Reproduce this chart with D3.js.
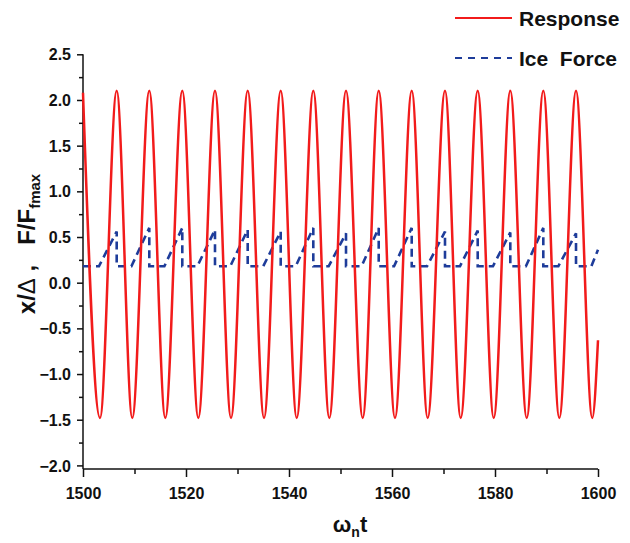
<!DOCTYPE html>
<html>
<head>
<meta charset="utf-8">
<script src="https://cdn.jsdelivr.net/npm/d3@7"></script>
<style>
  body { margin: 0; background: #fff; }
  svg { display: block; font-family: "Liberation Sans", Arial, sans-serif; }
  .tick-label { font-size: 16px; font-weight: bold; fill: #111; }
</style>
</head>
<body>
<svg id="chart" width="630" height="543"></svg>
<script>
// Response and ice force vs. non-dimensional time.

// response: extrema times and values (plus the two end points)
const respT = [1500, 1503.30, 1506.54, 1509.57, 1512.87, 1515.98, 1519.28, 1522.39,
  1525.63, 1528.74, 1531.98, 1535.15, 1538.39, 1541.50, 1544.72, 1547.83, 1551.07,
  1554.31, 1557.42, 1560.58, 1563.83, 1566.93, 1570.29, 1573.34, 1576.64, 1579.75,
  1582.97, 1586.16, 1589.38, 1592.49, 1595.73, 1598.89, 1600];
const respV = [2.08, -1.48, 2.10, -1.48, 2.10, -1.48, 2.10, -1.48,
  2.10, -1.48, 2.10, -1.48, 2.10, -1.48, 2.10, -1.48, 2.10,
  -1.48, 2.10, -1.48, 2.10, -1.48, 2.10, -1.48, 2.10, -1.48,
  2.10, -1.48, 2.10, -1.48, 2.10, -1.48, -0.63];

// ice force: ramp starts, drop times, peak values, base level
const forceStart = [1503.1, 1509.4, 1515.8, 1522.2, 1528.6, 1535.0, 1541.3, 1547.7,
  1554.1, 1560.4, 1566.8, 1573.2, 1579.6, 1586.0, 1592.3, 1598.7];
const forceDrop = [1506.54, 1512.87, 1519.28, 1525.63, 1531.98, 1538.39, 1544.72,
  1551.07, 1557.42, 1563.83, 1570.29, 1576.64, 1582.97, 1589.38, 1595.73];
const forcePeak = [0.56, 0.60, 0.60, 0.58, 0.58, 0.56, 0.60, 0.54, 0.60, 0.60,
  0.56, 0.57, 0.55, 0.60, 0.54];
const forceBase = 0.18;
const forceEnd = 0.36;

const xTicks = [1500, 1520, 1540, 1560, 1580, 1600];
const yTicks = [-2.0, -1.5, -1.0, -0.5, 0.0, 0.5, 1.0, 1.5, 2.0, 2.5];

const RED = '#f21b1b';
const BLUE = '#1e3c9a';

const svg = d3.select('#chart');

const x = d3.scaleLinear().domain([1500, 1600]).range([83, 598]);
const y = d3.scaleLinear().domain([-2.0, 2.5]).range([465.4, 54.3]);
const yBottom = 469;

// axes
const xAxis = d3.axisBottom(x).tickValues(d3.range(1500, 1601, 10))
  .tickFormat(d => xTicks.includes(d) ? d : '')
  .tickSize(0).tickPadding(0);

const gx = svg.append('g').attr('transform', `translate(0,${yBottom})`).call(xAxis);
gx.select('.domain').remove();
gx.selectAll('.tick line')
  .attr('y2', d => xTicks.includes(d) ? 8 : 5)
  .attr('stroke', '#111').attr('stroke-width', 1.5);
gx.selectAll('.tick text').attr('class', 'tick-label').attr('y', 30).attr('dy', null);

const yAxis = d3.axisLeft(y).tickValues(d3.range(-2.0, 2.51, 0.25))
  .tickFormat(d => yTicks.some(t => Math.abs(t - d) < 1e-6) ? d3.format('.1f')(d) : '')
  .tickSize(0).tickPadding(0);

const gy = svg.append('g').attr('transform', 'translate(83,0)').call(yAxis);
gy.select('.domain').remove();
gy.selectAll('.tick line')
  .attr('x2', d => yTicks.some(t => Math.abs(t - d) < 1e-6) ? -6 : -4)
  .attr('stroke', '#111').attr('stroke-width', 1.5);
gy.selectAll('.tick text').attr('class', 'tick-label').attr('x', -12).attr('dy', '0.35em');

svg.append('line').attr('x1', 83).attr('x2', 598).attr('y1', yBottom).attr('y2', yBottom)
  .attr('stroke', '#111').attr('stroke-width', 1.5);
svg.append('line').attr('x1', 83).attr('x2', 83).attr('y1', y(2.5)).attr('y2', yBottom)
  .attr('stroke', '#111').attr('stroke-width', 1.5);

// ice force polyline
const forcePts = [[1500, forceBase]];
forceDrop.forEach((t, i) => {
  forcePts.push([forceStart[i], forceBase]);
  forcePts.push([t, forcePeak[i]]);
  forcePts.push([t, forceBase]);
});
forcePts.push([forceStart[forceStart.length - 1], forceBase]);
forcePts.push([1600, forceEnd]);

svg.append('path')
  .attr('d', d3.line().x(d => x(d[0])).y(d => y(d[1]))(forcePts))
  .attr('fill', 'none').attr('stroke', BLUE).attr('stroke-width', 2.6)
  .attr('stroke-dasharray', '8,5');

// response curve
const respPts = respT.map((t, i) => [t, respV[i]]);
svg.append('path')
  .attr('d', d3.line().curve(d3.curveMonotoneX).x(d => x(d[0])).y(d => y(d[1]))(respPts))
  .attr('fill', 'none').attr('stroke', RED).attr('stroke-width', 2.5);

// axis titles
const yl = svg.append('text')
  .attr('transform', 'translate(35,244) rotate(-90)')
  .attr('text-anchor', 'middle')
  .attr('font-size', 24).attr('font-weight', 'bold').attr('fill', '#111');
yl.append('tspan').text('x/');
yl.append('tspan').attr('font-weight', 'normal').text('Δ');
yl.append('tspan').text(' ,\u00A0\u00A0 F/F');
yl.append('tspan').attr('font-size', 15).attr('dy', 5).text('fmax');

const xl = svg.append('text')
  .attr('x', 350).attr('y', 532)
  .attr('text-anchor', 'middle')
  .attr('font-size', 22).attr('font-weight', 'bold').attr('fill', '#111');
xl.append('tspan').text('ω');
xl.append('tspan').attr('font-size', 14).attr('dy', 5).text('n');
xl.append('tspan').attr('dy', -5).text('t');

// legend
const legend = [
  { label: 'Response', color: RED, dash: null, y: 18 },
  { label: 'Ice\u00A0 Force', color: BLUE, dash: '7,6', y: 58 }
];
legend.forEach(l => {
  svg.append('line')
    .attr('x1', 455).attr('x2', 512).attr('y1', l.y).attr('y2', l.y)
    .attr('stroke', l.color).attr('stroke-width', 2.2)
    .attr('stroke-dasharray', l.dash);
  svg.append('text')
    .attr('x', 519).attr('y', l.y + 8)
    .attr('font-size', 21).attr('font-weight', 'bold').attr('fill', '#111')
    .text(l.label);
});
</script>
</body>
</html>
